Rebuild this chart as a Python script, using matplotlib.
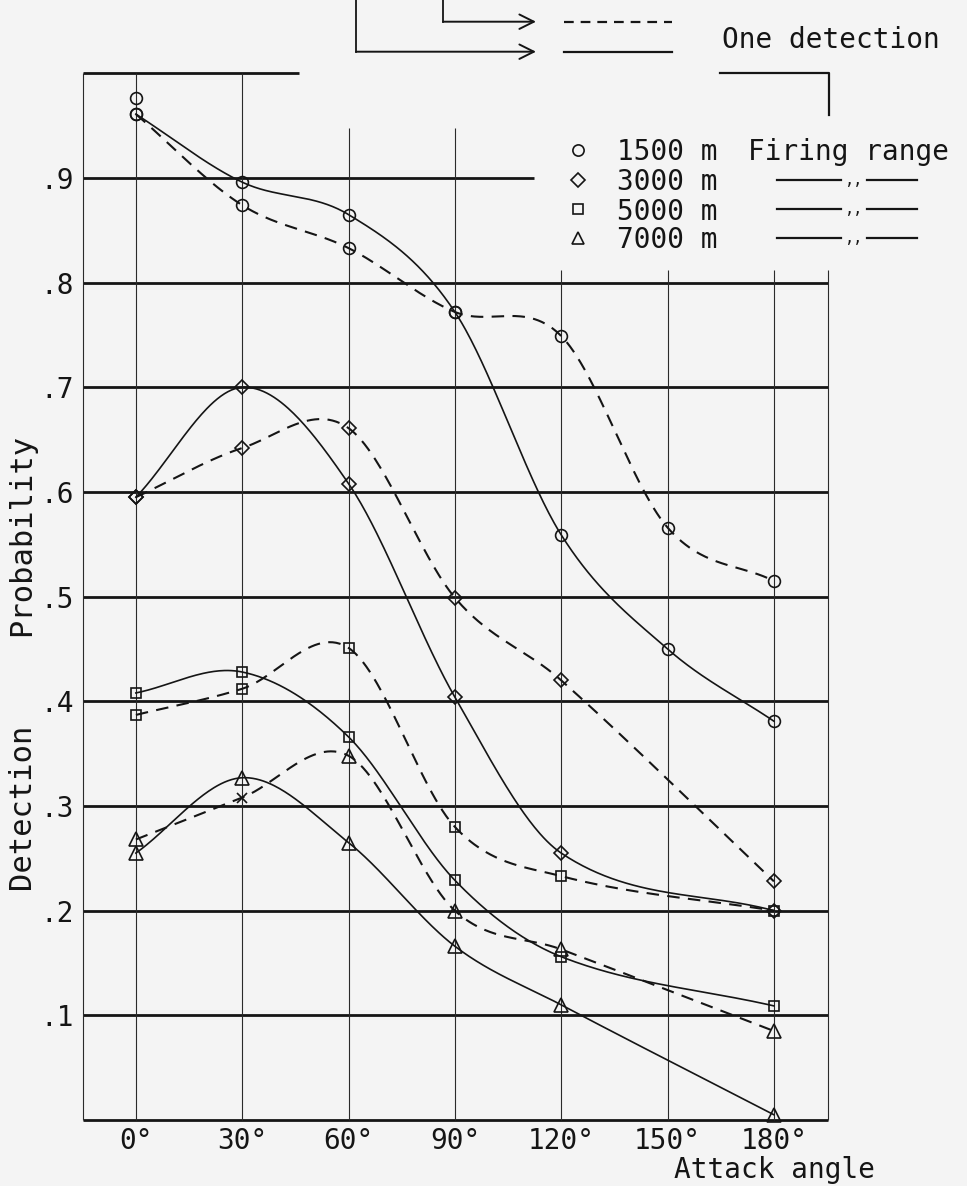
import numpy as np
import matplotlib
matplotlib.use("Agg")
import matplotlib.pyplot as plt
from matplotlib.lines import Line2D

# ---------------- data ----------------
angles = [0, 30, 60, 90, 120, 150, 180]
angle_labels = ["0°", "30°", "60°", "90°", "120°", "150°", "180°"]
y_ticks = [0.1, 0.2, 0.3, 0.4, 0.5, 0.6, 0.7, 0.8, 0.9]
y_tick_labels = [".1", ".2", ".3", ".4", ".5", ".6", ".7", ".8", ".9"]
ranges = ["1500 m", "3000 m", "5000 m", "7000 m"]
nan = np.nan

# solid curves
solid_1500 = [0.961, 0.896, 0.865, 0.772, 0.559, 0.450, 0.381]
solid_3000 = [0.595, 0.700, 0.608, 0.404, 0.255, nan, 0.200]
solid_5000 = [0.408, 0.428, 0.366, 0.229, 0.156, nan, 0.109]
solid_7000 = [0.255, 0.327, 0.265, 0.166, 0.110, nan, 0.005]
# dashed curves
dashed_1500 = [0.961, 0.874, 0.833, 0.772, 0.749, 0.566, 0.515]
dashed_3000 = [0.595, 0.642, 0.661, 0.499, 0.420, nan, 0.228]
dashed_5000 = [0.387, 0.412, 0.451, 0.280, 0.233, nan, 0.200]
dashed_7000 = [0.268, 0.308, 0.348, 0.200, 0.163, nan, 0.085]
# isolated extra reading at 0 deg, 1500 m
extra_1500_0deg = 0.976

solid_series = [solid_1500, solid_3000, solid_5000, solid_7000]
dashed_series = [dashed_1500, dashed_3000, dashed_5000, dashed_7000]
marker_styles = ["o", "D", "s", "^"]
marker_sizes = [8.5, 7.0, 7.2, 9.5]

# ---------------- style ----------------
FONT = "DejaVu Sans Mono"
plt.rcParams["font.family"] = [FONT]
plt.rcParams["lines.scale_dashes"] = False
INK = "#151515"
BG = "#f4f4f4"
W, H = 967, 1186


def smooth(xs, ys, n=60):
    xs = np.asarray(xs, float)
    ys = np.asarray(ys, float)
    ok = ~np.isnan(ys)
    xs, ys = xs[ok], ys[ok]
    d = np.diff(ys) / np.diff(xs)
    m = np.empty_like(ys)
    m[1:-1] = (ys[2:] - ys[:-2]) / (xs[2:] - xs[:-2])
    m[0] = d[0]
    m[-1] = d[-1]
    ox, oy = [], []
    for i in range(len(xs) - 1):
        h = xs[i + 1] - xs[i]
        t = np.linspace(0, 1, n, endpoint=(i == len(xs) - 2))
        h00 = 2 * t**3 - 3 * t**2 + 1
        h10 = t**3 - 2 * t**2 + t
        h01 = -2 * t**3 + 3 * t**2
        h11 = t**3 - t**2
        ox.append(xs[i] + t * h)
        oy.append(h00 * ys[i] + h10 * h * m[i] + h01 * ys[i + 1] + h11 * h * m[i + 1])
    return np.concatenate(ox), np.concatenate(oy)


fig = plt.figure(figsize=(W / 100, H / 100), dpi=100, facecolor=BG)
ax_l, ax_r, ax_t, ax_b = 82.7, 828.5, 73.3, 1120.0
ax = fig.add_axes([ax_l / W, 1 - ax_b / H, (ax_r - ax_l) / W, (ax_b - ax_t) / H])
ax.set_facecolor(BG)
XL, XR = -15.0, 195.4
ax.set_xlim(XL, XR)
ax.set_ylim(0, 1.0)
for s in ax.spines.values():
    s.set_visible(False)

ax.set_xticks(angles, angle_labels)
ax.set_yticks(y_ticks, y_tick_labels)
ax.tick_params(axis="x", length=0, labelsize=20, pad=5, colors=INK)
ax.tick_params(axis="y", length=0, labelsize=20, pad=6, colors=INK)

# ---- grid drawn like the hand-made chart ----
hl_kw = dict(color=INK, lw=2.0, clip_on=False, zorder=1)
ax.hlines(1.0, XL, 45.9, **hl_kw)
ax.hlines(0.9, XL, 112.4, **hl_kw)
for yv in [0.0] + y_ticks[:8]:
    ax.hlines(yv, XL, XR, **hl_kw)
vl_kw = dict(color="#2a2a2a", lw=0.8, clip_on=False, zorder=1)
ax.vlines(XL, 0, 1.0, **vl_kw)
ax.vlines([0, 30], 0, 1.0, **vl_kw)
ax.vlines([60, 90], 0, 0.948, **vl_kw)
ax.vlines([120, 150, 180, XR], 0, 0.812, **vl_kw)

# ---- curves ----
for vals, mk, ms in zip(solid_series, marker_styles, marker_sizes):
    sx, sy = smooth(angles, vals)
    ax.plot(sx, sy, color=INK, lw=1.2, zorder=3, clip_on=False)
    ax.plot(angles, vals, ls="none", marker=mk, ms=ms, mfc="none", mec=INK,
            mew=1.2, zorder=4, clip_on=False)

for idx, (vals, mk, ms) in enumerate(zip(dashed_series, marker_styles, marker_sizes)):
    sx, sy = smooth(angles, vals)
    ax.plot(sx, sy, color=INK, lw=1.5, ls=(0, (9, 6)), zorder=3, clip_on=False)
    if idx == 3:
        # the 30 deg reading of this curve is drawn as a small cross
        mx = [a for j, a in enumerate(angles) if j != 1]
        my = [v for j, v in enumerate(vals) if j != 1]
        ax.plot(mx, my, ls="none", marker=mk, ms=ms, mfc="none", mec=INK,
                mew=1.2, zorder=4, clip_on=False)
        ax.plot(angles[1], vals[1], ls="none", marker="x", ms=7, mec=INK,
                mew=1.2, zorder=4)
    else:
        ax.plot(angles, vals, ls="none", marker=mk, ms=ms, mfc="none", mec=INK,
                mew=1.2, zorder=4, clip_on=False)

ax.plot(angles[0], extra_1500_0deg, ls="none", marker="o", ms=8.5, mfc="none",
        mec=INK, mew=1.2, zorder=4, clip_on=False)


# ---------------- annotations in figure pixels ----------------
def fx(x):
    return x / W


def fy(y):
    return 1 - y / H


def pline(xs, ys, **kw):
    kw.setdefault("color", INK)
    kw.setdefault("lw", 1.3)
    fig.add_artist(Line2D([fx(x) for x in xs], [fy(y) for y in ys],
                          transform=fig.transFigure, **kw))


def arrow(x0, x1, y):
    ax.annotate("", xy=(x1, H - y), xytext=(x0, H - y), xycoords="figure pixels",
                textcoords="figure pixels",
                arrowprops=dict(arrowstyle="->", lw=1.4, color=INK,
                                mutation_scale=26, shrinkA=0, shrinkB=0))


# header brackets
pline([443, 443], [0, 21.7])
arrow(443, 536, 21.7)
pline([564, 672], [21.7, 21.7], lw=1.6, ls=(0, (7, 5)))
pline([356, 356], [0, 51.7])
arrow(356, 536, 51.7)
pline([564, 672], [51.7, 51.7], lw=1.6)
fig.text(fx(722), fy(40), "One detection", fontsize=20, color=INK,
         ha="left", va="center")
pline([720, 828.5, 828.5], [73.3, 73.3, 115], lw=1.6)

# legend block
row_y = [150, 180, 209, 238]
for i, (lab, mk, ms) in enumerate(zip(ranges, marker_styles, marker_sizes)):
    fig.add_artist(Line2D([fx(578)], [fy(row_y[i])], transform=fig.transFigure,
                          ls="none", marker=mk, ms=ms * 0.95, mfc="none",
                          mec=INK, mew=1.2))
    fig.text(fx(617), fy(row_y[i] + 10.5), lab, fontsize=20, color=INK,
             ha="left", va="baseline")
    if i == 0:
        fig.text(fx(748), fy(row_y[i] + 10.5), "Firing range", fontsize=20,
                 color=INK, ha="left", va="baseline")
    else:
        pline([777, 841], [row_y[i], row_y[i]], lw=1.6)
        fig.text(fx(854), fy(row_y[i] + 5), ",,", fontsize=11, color=INK,
                 ha="center", va="baseline")
        pline([867, 917], [row_y[i], row_y[i]], lw=1.6)

# axis titles
fig.text(fx(22), fy(535), "Probability", fontsize=22, color=INK,
         rotation=90, ha="center", va="center")
fig.text(fx(22), fy(806), "Detection", fontsize=22, color=INK,
         rotation=90, ha="center", va="center")
fig.text(fx(775), fy(1178), "Attack angle", fontsize=20, color=INK,
         ha="center", va="baseline")

fig.savefig("out.png", dpi=100, facecolor=BG)
